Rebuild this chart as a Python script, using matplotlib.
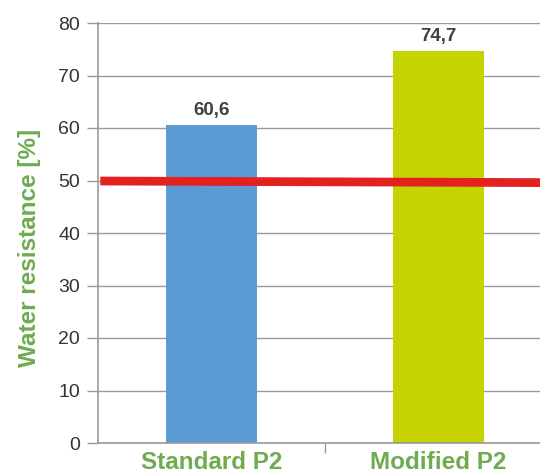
import matplotlib
matplotlib.use('Agg')
import matplotlib.pyplot as plt

# data
categories = ['Standard P2', 'Modified P2']
values = [60.6, 74.7]
value_labels = ['60,6', '74,7']
bar_colors = ['#5b9bd5', '#c5d300']
limit_x = [-0.49, 1.45]
limit_y = [49.9, 49.6]
y_ticks = [0, 10, 20, 30, 40, 50, 60, 70, 80]

green = '#6fab4f'
plt.rcParams['font.family'] = ['Liberation Sans', 'DejaVu Sans']

fig = plt.figure(figsize=(5.4, 4.76), dpi=100)
ax = fig.add_axes([98 / 540, 33 / 476, 442 / 540, 420 / 476])

x = list(range(len(categories)))
bars = ax.bar(x, values, width=0.4, color=bar_colors, zorder=2)
for b, lab in zip(bars, value_labels):
    ax.text(b.get_x() + b.get_width() / 2, b.get_height() + 1.2, lab,
            ha='center', va='bottom', fontsize=13.5, fontweight='bold', color='#404040')

ax.plot(limit_x, limit_y, color='#e3211e', linewidth=6.3, solid_capstyle='butt', zorder=3)

ax.set_xlim(-0.5, 1.447)
ax.set_ylim(0, 80)
ax.set_yticks(y_ticks)
ax.yaxis.grid(True, color='#9a9a9a', linewidth=1, zorder=0)
ax.set_axisbelow(True)
ax.tick_params(axis='y', length=8, width=1, color='#9a9a9a', labelsize=14,
               labelcolor='#333333', pad=5)

ax.set_xticks(x)
ax.set_xticklabels(categories, fontsize=17.5, fontweight='bold', color=green)
ax.set_xticks([0.5], minor=True)
ax.tick_params(axis='x', which='major', length=0, pad=6)
ax.tick_params(axis='x', which='minor', length=7, width=1, color='#9a9a9a', direction='out')

for s in ['top', 'right']:
    ax.spines[s].set_visible(False)
for s in ['left', 'bottom']:
    ax.spines[s].set_color('#9a9a9a')
    ax.spines[s].set_linewidth(1.2)

ax.set_ylabel('Water resistance [%]', fontsize=17.5, fontweight='bold', color=green)
ax.yaxis.set_label_coords(-0.13, 0.464)

plt.savefig('out.png', dpi=100)
